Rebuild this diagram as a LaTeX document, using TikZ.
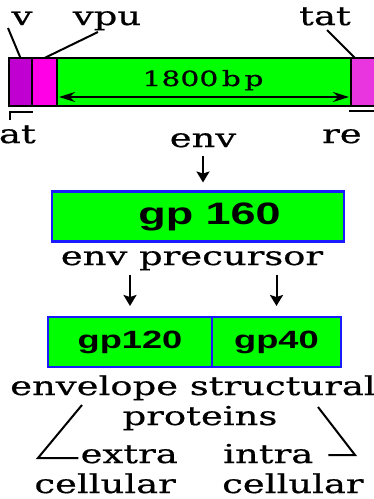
\documentclass[tikz,border=0pt]{standalone}
\usepackage{fontspec}
\setmainfont{DejaVu Serif}[FakeStretch=1.42, FakeBold=0.6]
\newfontfamily\gpfont{Liberation Sans}[FakeStretch=1.45]
\usetikzlibrary{arrows.meta,positioning}
\definecolor{genegreen}{HTML}{00FF00}
\definecolor{vifpurple}{HTML}{C000D0}
\definecolor{vpumagenta}{HTML}{FF00E6}
\definecolor{tatpink}{HTML}{E835E0}
\definecolor{boxblue}{HTML}{1A1AFF}
\tikzset{
  segment/.style={
    rectangle, draw=black, line width=2pt,
    minimum height=48pt, inner sep=0pt, outer sep=0pt,
    anchor=north west
  },
  protbox/.style={
    rectangle, draw=boxblue, fill=genegreen, line width=2.5pt,
    minimum height=50pt, inner sep=0pt, outer sep=0pt,
    font=\gpfont\bfseries\fontsize{25}{25}\selectfont
  },
  genetext/.style={inner sep=0pt, font=\fontsize{26}{30}\selectfont},
  arrow/.style={-{Stealth[length=11pt,width=13pt,inset=2pt]}, line width=2pt, draw=black},
  dimarrow/.style={{Stealth[length=16pt,width=10pt]}-{Stealth[length=16pt,width=10pt]}, line width=1.6pt},
  pointer/.style={line width=2pt, draw=black}
}

\begin{document}
\begin{tikzpicture}[x=1pt, y=-1pt]
  \useasboundingbox (0,0) rectangle (373,499);

  % gene bar
  \node[segment, fill=vifpurple, minimum width=23pt] (vif) at (9,58) {};
  \node[segment, fill=vpumagenta, minimum width=25pt] (vpu) at (32,58) {};
  \node[segment, fill=genegreen, minimum width=294pt] (env) at (57,58) {};
  \node[segment, fill=tatpink, minimum width=30pt] (tat) at (351,58) {};

  \node[genetext, font=\fontsize{21}{21}\selectfont, anchor=base] (size) at (203,86) {1800\,b\,p};
  \coordinate (dimL) at (59,97);
  \coordinate (dimR) at (349,97);
  \draw[dimarrow] (dimL) -- (dimR);

  % gene labels
  \node[genetext, anchor=base] (vlab) at (22,25) {v};
  \node[genetext, anchor=base] (vpulab) at (107,25) {vpu};
  \node[genetext, anchor=base] (tatlab) at (325,25) {tat};
  \node[genetext, anchor=base east] (tatexon) at (36,143) {at};
  \node[genetext, anchor=base west] (revexon) at (322,143) {re};

  \coordinate (vfoot) at (8,28);
  \coordinate (vpufoot) at (98,32);
  \coordinate (tatfoot) at (327,30);
  \draw[pointer] (vfoot) -- (vif.north);
  \draw[pointer] (vpufoot) -- (vpu.north);
  \draw[pointer] (tatfoot) -- ([xshift=4pt]tat.north west);

  \coordinate (tatbrk) at (10,120);
  \draw[pointer] (tatbrk) -- (10,112) -- (33,112);
  \coordinate (revbrk) at (349,111);
  \draw[pointer] (revbrk) -- (375,111);

  % env product
  \node[genetext, anchor=base] (envlab) at (203,147) {env};
  \node[protbox, minimum width=292pt, font=\gpfont\bfseries\fontsize{31}{31}\selectfont]
    (gp160) at (198,216.5) {\hspace*{23pt}gp 160};
  \draw[arrow, shorten <=8pt, shorten >=9pt] (envlab.south) -- (envlab.south |- gp160.north);

  \node[genetext, anchor=base] (precursor) at (192,265) {env precursor};

  \node[protbox, minimum width=164pt] (gp120) at (130,342) {gp120};
  \node[protbox, minimum width=129pt] (gp40) at (276.5,342) {gp40};
  \draw[arrow, shorten <=4pt, shorten >=11pt] (precursor.south -| gp120) -- (gp120.north);
  \draw[arrow, shorten <=4pt, shorten >=11pt] (precursor.south -| gp40) -- (gp40.north);

  % structural proteins
  \node[genetext, anchor=base west] (envelope) at (10,395) {envelope structural};
  \node[genetext, anchor=base] (proteins) at (200,425) {proteins};
  \node[genetext, anchor=base east] (extra) at (178,463) {extra};
  \node[genetext, anchor=base east] (extracell) at (176,493) {cellular};
  \node[genetext, anchor=base west] (intra) at (223,463) {intra};
  \node[genetext, anchor=base west] (intracell) at (222,493) {cellular};

  \coordinate (extop) at (82,405);
  \coordinate (excorner) at (38,458);
  \draw[pointer] (extop) -- (excorner) -- ([xshift=-2pt]excorner -| extra.west);
  \coordinate (intop) at (318,407);
  \coordinate (incorner) at (355,455);
  \draw[pointer] (intop) -- (incorner) -- ([xshift=15pt]incorner -| intra.east);
\end{tikzpicture}
\end{document}
